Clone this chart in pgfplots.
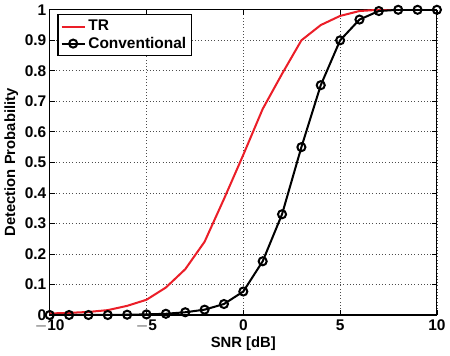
\documentclass[border=0pt]{standalone}
\usepackage{pgfplots}
\pgfplotsset{compat=1.18}
\usepackage{fontspec}
\setmainfont{Liberation Sans}
\definecolor{trred}{RGB}{235,30,40}
\begin{document}
\begin{tikzpicture}
\begin{axis}[
  scale only axis,
  width=288pt, height=227pt,
  xmin=-10, xmax=10, ymin=0, ymax=1,
  xtick={-10,-5,0,5,10},
  ytick={0,0.1,0.2,0.3,0.4,0.5,0.6,0.7,0.8,0.9,1},
  yticklabels={0,0.1,0.2,0.3,0.4,0.5,0.6,0.7,0.8,0.9,1},
  xticklabels={\textbf{$-$10},\textbf{$-$5},\textbf{0},\textbf{5},\textbf{10}},
  tick align=inside,
  xtick pos=both, ytick pos=both,
  major tick length=4pt,
  grid=major,
  grid style={dotted, black!70, line width=0.6pt},
  axis line style={line width=0.8pt},
  every tick/.style={black, line width=0.6pt},
  tick label style={font=\bfseries\fontsize{11.5}{13}\selectfont},
  xticklabel style={yshift=0pt},
  yticklabel style={xshift=1pt},
  xlabel={\textbf{SNR [dB]}},
  ylabel={\textbf{Detection Probability}},
  label style={font=\bfseries\fontsize{11}{13}\selectfont},
  xlabel style={yshift=3pt},
  ylabel style={yshift=-2pt},
  /pgf/number format/assume math mode=true,
  legend style={at={(0.02,0.985)}, anchor=north west, draw=black, line width=0.8pt, font=\bfseries\fontsize{11.5}{13}\selectfont, inner sep=2pt, row sep=-1pt},
  legend cell align=left,
]
\addplot[trred, line width=1.5pt] coordinates {
(-10,0.005) (-9,0.007) (-8,0.01) (-7,0.016) (-6,0.03) (-5,0.05) (-4,0.09) (-3,0.15) (-2,0.24) (-1,0.38) (0,0.525) (1,0.675) (2,0.79) (3,0.9) (4,0.95) (5,0.98) (6,0.996) (7,1) (8,1) (9,1) (10,1)
};
\addlegendentry{TR}
\addplot[black, line width=1.5pt, mark=o, mark size=3pt, mark options={line width=1.5pt}] coordinates {
(-10,0) (-9,0) (-8,0) (-7,0) (-6,0.001) (-5,0.002) (-4,0.004) (-3,0.009) (-2,0.0175) (-1,0.036) (0,0.077) (1,0.176) (2,0.33) (3,0.55) (4,0.753) (5,0.9) (6,0.968) (7,0.996) (8,1) (9,1) (10,1)
};
\addlegendentry{Conventional}
\end{axis}
\end{tikzpicture}
\end{document}
